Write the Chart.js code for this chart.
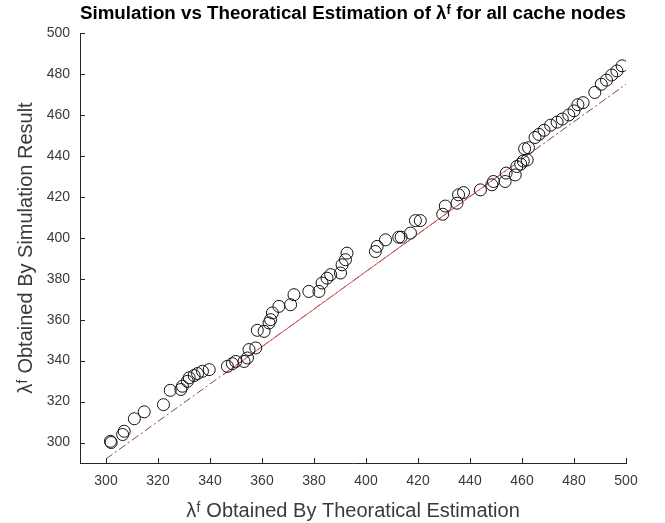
<!DOCTYPE html>
<html>
<head>
<meta charset="utf-8">
<script src="https://cdn.jsdelivr.net/npm/chart.js@4/dist/chart.umd.min.js"></script>
<style>
html,body{margin:0;padding:0;background:#fff}
</style>
</head>
<body>
<canvas id="lambda" width="665" height="523"></canvas>
<script>
// circles: theoretical estimate (x) vs simulation result (y)
const theoX = [301.7,302.0,306.4,307.0,310.9,314.7,322.1,324.7,328.8,329.4,331.3,332.0,333.9,335.2,337.1,339.7,
  346.7,348.6,349.9,353.1,354.4,355.0,357.6,358.2,360.8,362.7,363.3,364.0,366.5,371.0,372.3,
  378.0,381.9,383.1,385.0,386.4,390.2,390.8,392.1,392.7,403.6,404.3,407.5,412.6,413.5,417.1,419.0,420.9,
  429.5,430.5,435.0,435.6,437.5,444.0,448.4,449.0,453.5,453.9,457.4,458.0,459.5,460.5,462.0,461.0,462.5,
  465.0,466.5,468.5,471.0,473.5,475.5,478.0,480.0,481.5,483.5,488.0,490.5,492.5,494.5,496.5,498.5]
const simY = [300.6,300.0,303.9,305.5,311.6,315.0,318.5,325.5,325.9,327.5,329.9,331.6,332.7,333.7,334.8,335.6,
  337.2,338.5,339.6,339.6,341.3,345.4,346.2,354.8,354.3,358.4,360.0,363.3,366.5,367.3,372.2,
  373.8,373.8,377.9,380.3,382.0,382.8,386.8,389.3,392.5,393.3,395.8,399.0,400.3,400.3,402.3,408.4,408.4,
  411.5,415.5,416.9,421.0,422.1,423.4,425.9,427.5,427.5,431.6,430.7,434.8,436.0,437.5,438.0,443.5,444.0,
  449.0,450.5,452.5,455.0,456.5,458.0,460.0,462.0,465.0,466.0,471.0,475.0,477.0,479.5,481.5,484.0]

// theoretical reference line (dash-dot) and the solid red part over the middle range
const lineX = [300, 500]
const lineY = [292, 475]
const solidX = [345, 455]
const solidY = [333, 434]

const xTicks = [300,320,340,360,380,400,420,440,460,480,500]
const yTicks = [300,320,340,360,380,400,420,440,460,480,500]

const axisColor = '#262626'
const labelColor = '#3a3a3a'
const fontFamily = '"Liberation Sans", Arial, "DejaVu Sans", sans-serif'

// MATLAB style ticks pointing into the plot
const inwardTicks = {
  id:'inwardTicks',
  afterDraw(chart){
    const {ctx, chartArea, scales} = chart
    ctx.save()
    ctx.strokeStyle = axisColor
    ctx.lineWidth = 1
    xTicks.forEach(v => {
      const px = Math.round(scales.x.getPixelForValue(v)) + 0.5
      ctx.beginPath()
      ctx.moveTo(px, chartArea.bottom)
      ctx.lineTo(px, chartArea.bottom - 5)
      ctx.stroke()
    })
    yTicks.forEach(v => {
      const py = Math.round(scales.y.getPixelForValue(v)) + 0.5
      ctx.beginPath()
      ctx.moveTo(chartArea.left, py)
      ctx.lineTo(chartArea.left + 5, py)
      ctx.stroke()
    })
    ctx.restore()
  }
}

const points = theoX.map((x, i) => ({x:x, y:simY[i]}))
const linePts = lineX.map((x, i) => ({x:x, y:lineY[i]}))
const solidPts = solidX.map((x, i) => ({x:x, y:solidY[i]}))

new Chart(document.getElementById('lambda').getContext('2d'), {
  type:'scatter',
  data:{
    datasets:[{
      data:points,
      pointStyle:'circle',
      pointRadius:6,
      pointBorderWidth:1,
      borderColor:'#111',
      backgroundColor:'rgba(0,0,0,0)',
      order:1
    },{
      data:linePts,
      showLine:true,
      pointRadius:0,
      borderColor:'#8e3c4c',
      borderWidth:1,
      borderDash:[8,3,2,3],
      order:3
    },{
      data:solidPts,
      showLine:true,
      pointRadius:0,
      borderColor:'#d05a5a',
      borderWidth:1,
      order:2
    }]
  },
  options:{
    responsive:false,
    animation:false,
    layout:{padding:{top:0, right:39, bottom:0, left:0}},
    plugins:{
      legend:{display:false},
      tooltip:{enabled:false},
      title:{
        display:true,
        fullSize:false,
        text:'Simulation vs Theoratical Estimation of λᶠ for all cache nodes',
        color:'#000',
        font:{family:fontFamily, size:18.8, weight:'bold'},
        padding:{top:3, bottom:7.5}
      }
    },
    scales:{
      x:{
        type:'linear',
        min:290,
        max:500,
        afterBuildTicks:s => { s.ticks = xTicks.map(v => ({value:v})) },
        afterFit:s => { s.height = 60 },
        grid:{display:false, drawTicks:false},
        border:{display:true, color:axisColor, width:1},
        ticks:{color:labelColor, font:{family:fontFamily, size:14}, padding:10, maxRotation:0},
        title:{
          display:true,
          text:'λᶠ Obtained By Theoratical Estimation',
          color:labelColor,
          font:{family:fontFamily, size:20},
          padding:{top:0, bottom:0}
        }
      },
      y:{
        type:'linear',
        min:290,
        max:500,
        afterBuildTicks:s => { s.ticks = yTicks.map(v => ({value:v})) },
        afterFit:s => { s.width = 80 },
        grid:{display:false, drawTicks:false},
        border:{display:true, color:axisColor, width:1},
        ticks:{color:labelColor, font:{family:fontFamily, size:14}, padding:10},
        title:{
          display:true,
          text:'λᶠ Obtained By Simulation Result',
          color:labelColor,
          font:{family:fontFamily, size:20},
          padding:{top:14, bottom:0}
        }
      }
    }
  },
  plugins:[inwardTicks]
})
</script>
</body>
</html>
